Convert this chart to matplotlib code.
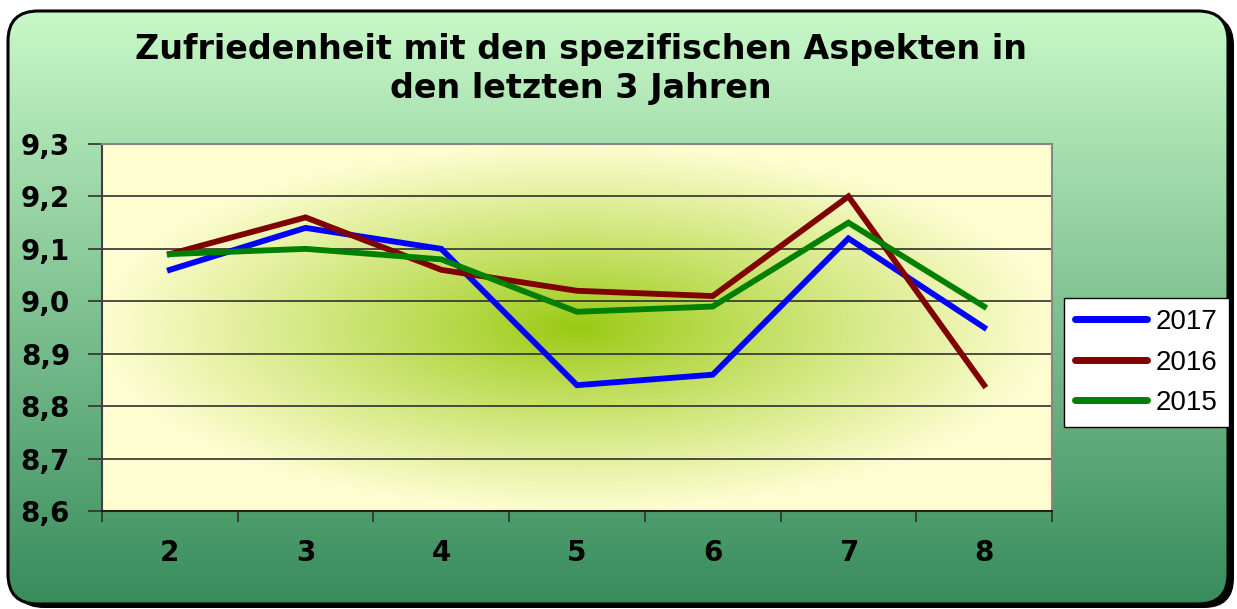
import numpy as np
import matplotlib
matplotlib.use("Agg")
import matplotlib.pyplot as plt
from matplotlib.patches import FancyBboxPatch

# ---- data ----
categories = ["2", "3", "4", "5", "6", "7", "8"]
s2017 = [9.06, 9.14, 9.10, 8.84, 8.86, 9.12, 8.95]
s2016 = [9.09, 9.16, 9.06, 9.02, 9.01, 9.20, 8.84]
s2015 = [9.09, 9.10, 9.08, 8.98, 8.99, 9.15, 8.99]
series_names = ["2017", "2016", "2015"]
yticks = [8.6, 8.7, 8.8, 8.9, 9.0, 9.1, 9.2, 9.3]
ytick_labels = ["8,6", "8,7", "8,8", "8,9", "9,0", "9,1", "9,2", "9,3"]
title = "Zufriedenheit mit den spezifischen Aspekten in\nden letzten 3 Jahren"

W, H = 1237, 609
fig = plt.figure(figsize=(W / 100, H / 100), dpi=100)
fig.patch.set_facecolor("white")

# ---- background with rounded frame ----
bg = fig.add_axes([0, 0, 1, 1])
bg.set_xlim(0, W)
bg.set_ylim(H, 0)
bg.axis("off")
x0, y0, x1, y1 = 8, 11, 1228, 604
shadow = FancyBboxPatch((x0 + 6, y0 + 4), x1 - x0, y1 - y0,
                        boxstyle="round,pad=0,rounding_size=30",
                        fc="black", ec="black", lw=0, zorder=1)
bg.add_patch(shadow)
frame = FancyBboxPatch((x0, y0), x1 - x0, y1 - y0,
                       boxstyle="round,pad=0,rounding_size=30",
                       fc="none", ec="black", lw=2.2, zorder=3)
top_c = np.array([200, 248, 200]) / 255
bot_c = np.array([56, 140, 92]) / 255
t = np.linspace(0, 1, 300)[:, None]
grad = top_c[None, None, :] * (1 - t[:, :, None]) + bot_c[None, None, :] * t[:, :, None]
grad = np.repeat(grad, 2, axis=1)
im = bg.imshow(grad, extent=(x0, x1, y1, y0), aspect="auto", zorder=2,
               interpolation="bilinear")
clip = FancyBboxPatch((x0, y0), x1 - x0, y1 - y0,
                      boxstyle="round,pad=0,rounding_size=30",
                      fc="none", ec="none", transform=bg.transData)
bg.add_patch(clip)
im.set_clip_path(clip)
bg.add_patch(frame)

# ---- plot area ----
L, R, T, B = 102, 1052, 144, 511
ax = fig.add_axes([L / W, 1 - B / H, (R - L) / W, (B - T) / H])
ax.set_xlim(0.5, 7.5)
ax.set_ylim(8.6, 9.3)

nx, ny = 400, 200
u = np.linspace(-1, 1, nx)[None, :]
v = np.linspace(-1, 1, ny)[:, None]
d = np.clip(np.sqrt(u ** 2 + v ** 2), 0, 1) ** 0.9
cen = np.array([152, 201, 16]) / 255
edg = np.array([253, 253, 208]) / 255
pa = cen[None, None, :] * (1 - d[:, :, None]) + edg[None, None, :] * d[:, :, None]
ax.imshow(pa, extent=(0.5, 7.5, 8.6, 9.3), aspect="auto", zorder=0,
          interpolation="bilinear")

for yv in yticks[1:-1]:
    ax.axhline(yv, color="#303030", lw=1.2, zorder=1)

x = np.arange(1, len(categories) + 1)
ax.plot(x, s2017, color="#0000ff", lw=4.2, label=series_names[0], zorder=3,
        solid_joinstyle="miter")
ax.plot(x, s2016, color="#800000", lw=4.2, label=series_names[1], zorder=3,
        solid_joinstyle="miter")
ax.plot(x, s2015, color="#008000", lw=4.2, label=series_names[2], zorder=3,
        solid_joinstyle="miter")

ax.set_yticks(yticks)
ax.set_yticklabels(ytick_labels, fontsize=20, fontweight="bold")
ax.set_xticks(x)
ax.set_xticklabels(categories, fontsize=20, fontweight="bold")
ax.tick_params(axis="x", length=0, pad=20)
ax.set_xticks(np.arange(0.5, 8, 1), minor=True)
ax.tick_params(axis="x", which="minor", length=8, width=1.2, color="#303030")
ax.tick_params(axis="y", length=10, width=1.2, color="#303030", pad=13)
for sp in ["top", "right"]:
    ax.spines[sp].set_color("#888888")
    ax.spines[sp].set_linewidth(1.5)
ax.spines["left"].set_color("#404040")
ax.spines["left"].set_linewidth(1.5)
ax.spines["bottom"].set_color("#202020")
ax.spines["bottom"].set_linewidth(1.5)

leg = fig.legend(loc="upper left", bbox_to_anchor=(1064 / W, 1 - 298 / H),
                 frameon=True, fancybox=False, edgecolor="black",
                 framealpha=1, facecolor="white",
                 prop={"family": "Liberation Sans", "size": 20},
                 handlelength=2.6, handletextpad=0.3, labelspacing=0.52,
                 borderpad=0.4, borderaxespad=0)
leg.get_frame().set_linewidth(1.0)
for ln in leg.get_lines():
    ln.set_linewidth(5)
    ln.set_solid_capstyle("round")

fig.text(581 / W, 1 - 69 / H, title, ha="center", va="center",
         fontsize=24, fontweight="bold", linespacing=1.25)

fig.savefig("out.png", dpi=100, facecolor="white")
